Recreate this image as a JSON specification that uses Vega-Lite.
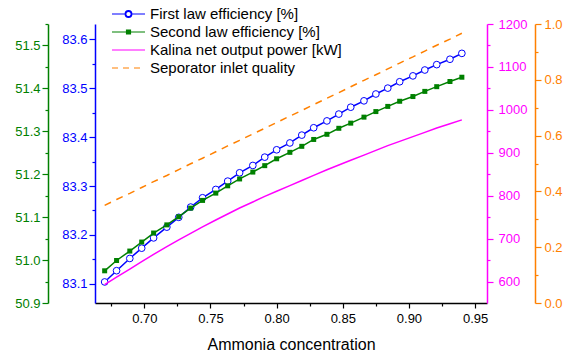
{
  "$schema": "https://vega.github.io/schema/vega-lite/v6.json",
  "width": 392,
  "height": 279,
  "autosize": {"type": "none"},
  "padding": {"left": 95, "top": 24, "right": 81, "bottom": 53},
  "background": "white",
  "config": {
    "view": {"stroke": null},
    "font": "Liberation Sans",
    "axis": {"grid": false, "labelFont": "Liberation Sans", "titleFont": "Liberation Sans", "labelFontSize": 13, "domainWidth": 1.5, "tickWidth": 1.2, "labelOverlap": false, "labelFlush": false}
  },
  "data": {"values": [
    {"x": 0.670, "fle": 83.104, "sle": 50.975, "pow": 594, "q": 0.350},
    {"x": 0.679, "fle": 83.127, "sle": 50.999, "pow": 611, "q": 0.371},
    {"x": 0.689, "fle": 83.152, "sle": 51.021, "pow": 630, "q": 0.393},
    {"x": 0.698, "fle": 83.173, "sle": 51.042, "pow": 647, "q": 0.414},
    {"x": 0.707, "fle": 83.194, "sle": 51.063, "pow": 664, "q": 0.435},
    {"x": 0.717, "fle": 83.216, "sle": 51.082, "pow": 682, "q": 0.457},
    {"x": 0.726, "fle": 83.236, "sle": 51.101, "pow": 698, "q": 0.478},
    {"x": 0.735, "fle": 83.257, "sle": 51.121, "pow": 713, "q": 0.499},
    {"x": 0.744, "fle": 83.276, "sle": 51.139, "pow": 728, "q": 0.519},
    {"x": 0.754, "fle": 83.293, "sle": 51.156, "pow": 744, "q": 0.542},
    {"x": 0.763, "fle": 83.310, "sle": 51.173, "pow": 758, "q": 0.563},
    {"x": 0.772, "fle": 83.327, "sle": 51.189, "pow": 772, "q": 0.583},
    {"x": 0.782, "fle": 83.342, "sle": 51.205, "pow": 786, "q": 0.606},
    {"x": 0.791, "fle": 83.359, "sle": 51.220, "pow": 799, "q": 0.626},
    {"x": 0.800, "fle": 83.374, "sle": 51.236, "pow": 811, "q": 0.647},
    {"x": 0.810, "fle": 83.388, "sle": 51.251, "pow": 824, "q": 0.670},
    {"x": 0.819, "fle": 83.404, "sle": 51.265, "pow": 836, "q": 0.690},
    {"x": 0.828, "fle": 83.419, "sle": 51.281, "pow": 848, "q": 0.711},
    {"x": 0.838, "fle": 83.433, "sle": 51.293, "pow": 861, "q": 0.734},
    {"x": 0.847, "fle": 83.447, "sle": 51.307, "pow": 872, "q": 0.754},
    {"x": 0.856, "fle": 83.461, "sle": 51.319, "pow": 883, "q": 0.775},
    {"x": 0.866, "fle": 83.474, "sle": 51.333, "pow": 895, "q": 0.798},
    {"x": 0.875, "fle": 83.488, "sle": 51.346, "pow": 906, "q": 0.818},
    {"x": 0.884, "fle": 83.500, "sle": 51.358, "pow": 917, "q": 0.839},
    {"x": 0.893, "fle": 83.513, "sle": 51.370, "pow": 927, "q": 0.860},
    {"x": 0.903, "fle": 83.525, "sle": 51.381, "pow": 938, "q": 0.882},
    {"x": 0.912, "fle": 83.537, "sle": 51.393, "pow": 948, "q": 0.903},
    {"x": 0.921, "fle": 83.548, "sle": 51.404, "pow": 958, "q": 0.924},
    {"x": 0.931, "fle": 83.559, "sle": 51.416, "pow": 968, "q": 0.946},
    {"x": 0.940, "fle": 83.571, "sle": 51.426, "pow": 977, "q": 0.967}
  ]},
  "encoding": {
    "x": {
      "field": "x", "type": "quantitative",
      "scale": {"domain": [0.6627, 0.959], "nice": false, "zero": false},
      "axis": {
        "title": "Ammonia concentration", "titleFontSize": 16, "titleFontWeight": "normal", "titleColor": "black", "titlePadding": 11,
        "values": [0.675, 0.7, 0.725, 0.75, 0.775, 0.8, 0.825, 0.85, 0.875, 0.9, 0.925, 0.95],
        "labelExpr": "abs(datum.value*20 - round(datum.value*20)) > 0.1 ? '' : format(datum.value, '.2f')",
        "tickSize": {"condition": {"test": "abs(datum.value*20 - round(datum.value*20)) > 0.1", "value": 3}, "value": 5},
        "domainColor": "black", "tickColor": "black", "labelColor": "black", "labelPadding": 4
      }
    }
  },
  "layer": [
    {
      "mark": {"type": "line", "strokeWidth": 1.5, "point": {"filled": false, "fill": "white", "size": 45, "strokeWidth": 1}},
      "encoding": {
        "y": {
          "field": "fle", "type": "quantitative",
          "scale": {"domain": [83.061, 83.631], "nice": false, "zero": false},
          "axis": {
            "title": null, "orient": "left", "offset": 0,
            "values": [83.1, 83.15, 83.2, 83.25, 83.3, 83.35, 83.4, 83.45, 83.5, 83.55, 83.6],
            "labelExpr": "abs(datum.value*10 - round(datum.value*10)) > 0.1 ? '' : format(datum.value, '.1f')",
            "tickSize": {"condition": {"test": "abs(datum.value*10 - round(datum.value*10)) > 0.1", "value": 3}, "value": 6},
            "domainColor": "#0000ff", "tickColor": "#0000ff", "labelColor": "#0000ff", "labelPadding": 2
          }
        },
        "color": {
          "datum": "First law efficiency [%]", "type": "nominal",
          "scale": {
            "domain": ["First law efficiency [%]", "Second law efficiency [%]", "Kalina net output power [kW]", "Seporator inlet quality"],
            "range": ["#0000ff", "#008000", "#ff00ff", "#ff8000"]
          },
          "legend": {
            "orient": "none", "legendX": 16, "legendY": -18, "title": null, "padding": 0,
            "labelFontSize": 15, "labelFont": "Liberation Sans", "labelColor": "black", "labelOffset": 4, "labelLimit": 0,
            "symbolSize": 1089, "symbolStrokeWidth": 1.2, "clipHeight": 16, "rowPadding": 2, "symbolType": "stroke",
            "encode": {
              "symbols": {
                "update": {
                  "shape": {"signal": "datum.value === 'First law efficiency [%]' ? 'M-1,0H-0.2M0.2,0H1M-0.2,0A0.2,0.2,0,1,1,0.2,0A0.2,0.2,0,1,1,-0.2,0ZM-0.165,0A0.165,0.165,0,1,0,0.165,0A0.165,0.165,0,1,0,-0.165,0Z' : datum.value === 'Second law efficiency [%]' ? 'M-1,0H1M-0.12,-0.12H0.12V0.12H-0.12Z' : 'M-1,0H1'"},
                  "strokeDash": {"signal": "datum.value === 'Seporator inlet quality' ? [6,5] : []"}
                }
              }
            }
          }
        }
      }
    },
    {
      "mark": {"type": "line", "strokeWidth": 1.5, "point": {"shape": "square", "filled": true, "size": 25}},
      "encoding": {
        "y": {
          "field": "sle", "type": "quantitative",
          "scale": {"domain": [50.9, 51.55], "nice": false, "zero": false},
          "axis": {
            "title": null, "orient": "left", "offset": 47,
            "values": [50.9, 50.95, 51.0, 51.05, 51.1, 51.15, 51.2, 51.25, 51.3, 51.35, 51.4, 51.45, 51.5, 51.55],
            "labelExpr": "abs(datum.value*10 - round(datum.value*10)) > 0.1 ? '' : format(datum.value, '.1f')",
            "tickSize": {"condition": {"test": "abs(datum.value*10 - round(datum.value*10)) > 0.1", "value": 3}, "value": 6},
            "domainColor": "#008000", "tickColor": "#008000", "labelColor": "#008000", "labelPadding": 2
          }
        },
        "color": {"datum": "Second law efficiency [%]", "type": "nominal"}
      }
    },
    {
      "mark": {"type": "line", "strokeWidth": 1.5},
      "encoding": {
        "y": {
          "field": "pow", "type": "quantitative",
          "scale": {"domain": [551, 1200], "nice": false, "zero": false},
          "axis": {
            "title": null, "orient": "right", "offset": 0,
            "values": [600, 650, 700, 750, 800, 850, 900, 950, 1000, 1050, 1100, 1150, 1200],
            "labelExpr": "datum.value % 100 != 0 ? '' : format(datum.value, 'd')",
            "tickSize": {"condition": {"test": "datum.value % 100 != 0", "value": 3}, "value": 6},
            "domainColor": "#ff00ff", "tickColor": "#ff00ff", "labelColor": "#ff00ff", "labelPadding": 5
          }
        },
        "color": {"datum": "Kalina net output power [kW]", "type": "nominal"}
      }
    },
    {
      "mark": {"type": "line", "strokeWidth": 1.5, "strokeDash": [7, 6]},
      "encoding": {
        "y": {
          "field": "q", "type": "quantitative",
          "scale": {"domain": [0, 1], "nice": false, "zero": false},
          "axis": {
            "title": null, "orient": "right", "offset": 48,
            "values": [0, 0.1, 0.2, 0.3, 0.4, 0.5, 0.6, 0.7, 0.8, 0.9, 1.0],
            "labelExpr": "abs(datum.value*5 - round(datum.value*5)) > 0.1 ? '' : format(datum.value, '.1f')",
            "tickSize": {"condition": {"test": "abs(datum.value*5 - round(datum.value*5)) > 0.1", "value": 3}, "value": 6},
            "domainColor": "#ff8000", "tickColor": "#ff8000", "labelColor": "#ff8000", "labelPadding": 3
          }
        },
        "color": {"datum": "Seporator inlet quality", "type": "nominal"}
      }
    }
  ],
  "resolve": {"scale": {"y": "independent"}, "axis": {"y": "independent"}}
}
